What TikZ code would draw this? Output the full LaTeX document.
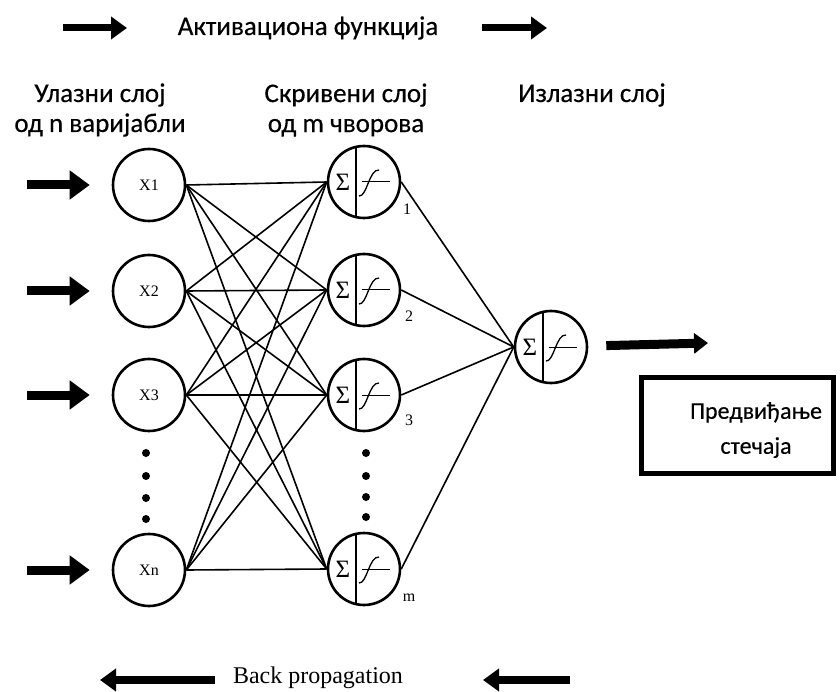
\documentclass[tikz,border=0pt]{standalone}
\usepackage{fontspec}
\setmainfont{Liberation Serif}
\newfontfamily\calfont[FakeBold=0.4]{Carlito}
\usepackage{tikz}
\usetikzlibrary{arrows.meta, calc}

\begin{document}
\begin{tikzpicture}[
  x=1pt, y=-1pt,
  txt/.style={font=\calfont\fontsize{27}{30}\selectfont, align=center, inner sep=0pt},
  inp/.style={
    circle, draw, line width=2.6pt, minimum size=72pt, inner sep=0pt,
    font=\fontsize{16}{16}\selectfont
  },
  hid/.style={
    circle, draw, line width=2.6pt, minimum size=72pt, inner sep=0pt,
    path picture={
      \draw[line width=2.4pt] ($(path picture bounding box.north)+(-8,0)$)
        -- ($(path picture bounding box.south)+(-8,0)$);
      \node[font=\fontsize{25}{25}\selectfont, inner sep=0pt]
        at ($(path picture bounding box.center)+(-21,0)$) {Σ};
      \draw[line width=1pt] ($(path picture bounding box.center)+(-2,0)$) -- ++(28,0);
      \draw[line width=1.3pt] ($(path picture bounding box.center)+(-5,14)$)
        .. controls ($(path picture bounding box.center)+(3,15)$)
        and ($(path picture bounding box.center)+(5,-13)$)
        .. ($(path picture bounding box.center)+(15,-12)$);
    }
  },
  num/.style={font=\fontsize{16}{16}\selectfont, inner sep=0pt},
  dot/.style={circle, fill, minimum size=8pt, inner sep=0pt},
  link/.style={line width=1.6pt},
  bigarr/.style={-{Triangle[length=20pt, width=28pt]}, line width=9pt},
  toparr/.style={-{Triangle[length=16pt, width=22pt]}, line width=7pt},
  predbox/.style={draw, line width=5pt, minimum width=192pt, minimum height=96pt},
]
\useasboundingbox (0,0) rectangle (840,692);

%% titles
\node[txt] (act)  at (308,28)  {Активациона функција};
\node[txt] (inl)  at (100,110) {Улазни слој\\од n варијабли};
\node[txt] (hidl) at (346,110) {Скривени слој\\од m чворова};
\node[txt] (outl) at (592,95)  {Излазни слој};

\coordinate (ta1s) at (63,28);  \coordinate (ta1e) at (127,28);
\coordinate (ta2s) at (482,28); \coordinate (ta2e) at (547,28);
\draw[toparr] (ta1s) -- (ta1e);
\draw[toparr] (ta2s) -- (ta2e);

%% input layer
\node[inp] (x1) at (149,185) {X1};
\node[inp] (x2) at (149,291) {X2};
\node[inp] (x3) at (149,395) {X3};
\node[inp] (xn) at (149,570) {Xn};
\node[dot] (xd1) at (146,453) {};
\node[dot] (xd2) at (146,476) {};
\node[dot] (xd3) at (146,498) {};
\node[dot] (xd4) at (146,519) {};

%% hidden layer
\node[hid] (h1) at (364,182) {};
\node[hid] (h2) at (364,290) {};
\node[hid] (h3) at (364,395) {};
\node[hid] (hm) at (364,569) {};
\node[dot] (hd1) at (366,453) {};
\node[dot] (hd2) at (366,476) {};
\node[dot] (hd3) at (366,497) {};
\node[dot] (hd4) at (366,517) {};
\node[num] (n1) at (407,209) {1};
\node[num] (n2) at (409,316) {2};
\node[num] (n3) at (409,420) {3};
\node[num] (nm) at (409,598) {m};

%% output layer
\node[hid] (out) at (551,347) {};
\node[predbox] (pred) at (737,425) {};
\node[txt, font=\calfont\fontsize{24}{30}\selectfont] (predtxt) at (756,430) {Предвиђање\\[5pt]стечаја};

%% inputs
\coordinate (in1) at (27,185);
\coordinate (in2) at (27,291);
\coordinate (in3) at (27,395);
\coordinate (inn) at (27,570);
\draw[bigarr, shorten >=22pt] (in1) -- (x1);
\draw[bigarr, shorten >=22pt] (in2) -- (x2);
\draw[bigarr, shorten >=22pt] (in3) -- (x3);
\draw[bigarr, shorten >=22pt] (inn) -- (xn);

%% input -> hidden
\draw[link] (x1.east) -- (h1.west);
\draw[link] (x1.east) -- (h2.west);
\draw[link] (x1.east) -- (h3.west);
\draw[link] (x1.east) -- (hm.west);
\draw[link] (x2.east) -- (h1.west);
\draw[link] (x2.east) -- (h2.west);
\draw[link] (x2.east) -- (h3.west);
\draw[link] (x2.east) -- (hm.west);
\draw[link] (x3.east) -- (h1.west);
\draw[link] (x3.east) -- (h2.west);
\draw[link] (x3.east) -- (h3.west);
\draw[link] (x3.east) -- (hm.west);
\draw[link] (xn.east) -- (h1.west);
\draw[link] (xn.east) -- (h2.west);
\draw[link] (xn.east) -- (h3.west);
\draw[link] (xn.east) -- (hm.west);

%% hidden -> output
\draw[link] (h1.east) -- (out.west);
\draw[link] (h2.east) -- (out.west);
\draw[link] (h3.east) -- (out.west);
\draw[link] (hm.east) -- (out.west);

%% output arrow
\coordinate (oute) at (708,343);
\draw[bigarr, -{Triangle[length=14pt, width=20pt]}, shorten <=18pt] (out) -- (oute);

%% back propagation
\node[font=\fontsize{24}{24}\selectfont, inner sep=0pt] (bp) at (318,678) {Back propagation};
\coordinate (bl1) at (215,680); \coordinate (bl2) at (100,680);
\coordinate (br1) at (570,680); \coordinate (br2) at (483,680);
\draw[toparr, line width=8pt] (bl1) -- (bl2);
\draw[toparr, line width=8pt] (br1) -- (br2);
\end{tikzpicture}
\end{document}
